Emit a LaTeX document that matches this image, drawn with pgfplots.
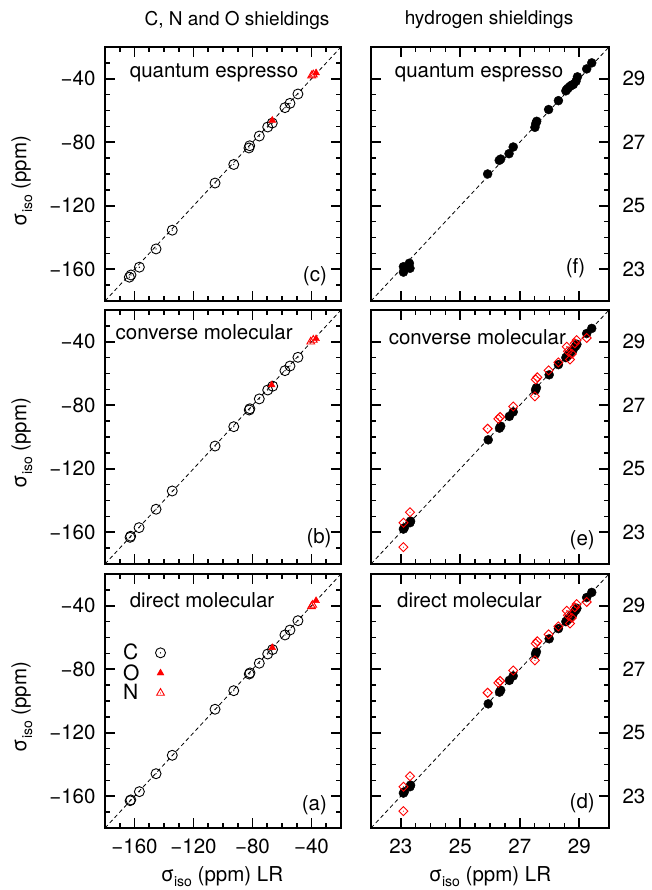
\documentclass[border=0pt]{standalone}
\usepackage{fontspec}
\setmainfont{TeX Gyre Heros}
\usepackage{pgfplots}
\pgfplotsset{compat=1.18}
\usepackage{pgfplotstable}

% open marks with a small centre dot
\pgfdeclareplotmark{odot}{%
  \pgfpathcircle{\pgfpointorigin}{\pgfplotmarksize}%
  \pgfusepathqstroke
  \pgfpathcircle{\pgfpointorigin}{0.7pt}%
  \pgfusepathqfill}
\pgfdeclareplotmark{triangledot}{%
  \pgfpathmoveto{\pgfqpointpolar{90}{\pgfplotmarksize}}%
  \pgfpathlineto{\pgfqpointpolar{210}{\pgfplotmarksize}}%
  \pgfpathlineto{\pgfqpointpolar{330}{\pgfplotmarksize}}%
  \pgfpathclose
  \pgfusepathqstroke
  \pgfpathcircle{\pgfpointorigin}{0.6pt}%
  \pgfusepathqfill}
\pgfdeclareplotmark{diamonddot}{%
  \pgfpathmoveto{\pgfqpoint{0pt}{\pgfplotmarksize}}%
  \pgfpathlineto{\pgfqpoint{\pgfplotmarksize}{0pt}}%
  \pgfpathlineto{\pgfqpoint{0pt}{-\pgfplotmarksize}}%
  \pgfpathlineto{\pgfqpoint{-\pgfplotmarksize}{0pt}}%
  \pgfpathclose
  \pgfusepathqstroke
  \pgfpathcircle{\pgfpointorigin}{0.6pt}%
  \pgfusepathqfill}

% sigma_iso with a subscript scaled to the 20pt label size
\newcommand{\siso}{σ\raisebox{-0.28em}{\fontsize{14}{16}\selectfont iso}}

% ---- C, N, O shieldings: LR (x) against method (y) ----
\pgfplotstableread{
x y
-163.5 -165.0
-162.4 -163.6
-156.7 -158.7
-145.4 -147.2
-134.4 -135.4
-105.4 -105.7
-92.7 -94.0
-82.4 -83.6
-81.9 -82.2
-75.4 -76.1
-69.7 -70.4
-66.6 -67.9
-58.0 -58.2
-54.6 -55.5
-49.2 -49.6
}\Cqe
\pgfplotstableread{
x y
-66.6 -66.2
-36.9 -36.3
}\Oqe
\pgfplotstableread{
x y
-39.9 -38.0
-38.8 -37.4
}\Nqe

\pgfplotstableread{
x y
-163.0 -163.2
-162.6 -162.5
-156.9 -157.1
-145.4 -145.5
-134.4 -134.0
-105.4 -105.7
-92.7 -93.5
-82.2 -83.0
-81.8 -82.2
-75.4 -76.0
-69.7 -70.4
-66.3 -68.0
-58.0 -58.2
-54.6 -55.3
-49.2 -49.8
}\Cconv
\pgfplotstableread{
x y
-67.0 -67.2
-36.9 -38.1
}\Oconv
\pgfplotstableread{
x y
-40.5 -40.0
-38.8 -38.9
}\Nconv

\pgfplotstableread{
x y
-163.0 -162.8
-162.5 -162.3
-156.7 -157.1
-145.4 -145.8
-134.4 -134.2
-105.4 -105.2
-92.7 -93.5
-82.2 -83.0
-81.7 -82.3
-75.4 -76.2
-69.7 -70.4
-66.4 -67.6
-58.0 -58.4
-54.6 -55.3
-49.2 -49.4
}\Cdir
\pgfplotstableread{
x y
-66.6 -66.4
-36.9 -36.8
}\Odir
\pgfplotstableread{
x y
-39.2 -39.5
-40.0 -40.4
}\Ndir

% ---- hydrogen shieldings ----
\pgfplotstableread{
x y
23.09 23.08
23.09 22.91
23.29 23.19
23.31 23.03
25.92 26.00
26.31 26.43
26.36 26.47
26.64 26.64
26.78 26.85
27.51 27.47
27.54 27.59
27.57 27.66
27.97 28.03
28.30 28.31
28.55 28.62
28.58 28.66
28.62 28.70
28.69 28.76
28.75 28.80
28.80 28.82
28.89 28.92
28.94 29.06
29.25 29.31
29.42 29.50
}\Hqe
\pgfplotstableread{
x y
23.09 23.10
23.12 23.14
23.31 23.30
23.33 23.35
25.94 25.91
26.32 26.28
26.36 26.34
26.65 26.65
26.78 26.79
27.53 27.48
27.56 27.55
27.99 27.96
28.30 28.28
28.55 28.50
28.60 28.55
28.65 28.60
28.72 28.68
28.80 28.76
28.88 28.86
28.92 28.92
29.25 29.26
29.42 29.42
}\Hmol
\pgfplotstableread{
x y
23.09 22.53
23.09 23.30
23.31 23.63
25.92 26.26
26.28 26.57
26.34 26.63
26.78 26.96
27.51 27.28
27.54 27.81
27.59 27.88
27.97 28.10
28.30 28.35
28.58 28.84
28.62 28.70
28.69 28.44
28.75 28.62
28.85 28.95
28.91 29.05
29.25 29.12
}\Hmolref

\tikzset{ptext/.style={font=\fontsize{20.5}{24}\selectfont}}

\pgfplotsset{
  panel/.style={
    scale only axis, height=254pt,
    axis line style={line width=1.8pt},
    tick align=inside,
    xtick pos=both, ytick pos=both,
    tick style={line width=1.6pt, black},
    major tick length=10pt, minor tick length=5pt,
    tick label style={font=\fontsize{20.5}{24}\selectfont},
    xticklabel style={yshift=-7pt},
  },
  cno/.style={
    panel, width=236pt,
    xmin=-180, xmax=-20, ymin=-180, ymax=-20,
    xtick={-160,-120,-80,-40}, ytick={-160,-120,-80,-40},
    minor xtick={-170,-150,-140,-130,-110,-100,-90,-70,-60,-50,-30},
    minor ytick={-170,-150,-140,-130,-110,-100,-90,-70,-60,-50,-30},
    yticklabels={−160,−120,−80,−40},
    yticklabel style={xshift=-6pt},
  },
  hyd/.style={
    panel, width=238pt,
    xmin=22, xmax=30, ymin=22, ymax=30,
    xtick={23,25,27,29}, ytick={23,25,27,29},
    minor tick num=3,
    yticklabels={23,25,27,29},
    yticklabel pos=right,
    yticklabel style={xshift=10pt},
  },
  diag/.style={black, line width=0.8pt, dash pattern=on 4pt off 3pt, forget plot},
  Cmark/.style={only marks, mark=odot, mark size=5pt, black, line width=0.9pt},
  Omark/.style={only marks, mark=triangle*, mark size=4pt, red, fill=red},
  Nmark/.style={only marks, mark=triangledot, mark size=4.5pt, red, line width=0.9pt},
  Hmark/.style={only marks, mark=*, mark size=4.5pt, black, fill=black},
  Rmark/.style={only marks, mark=diamonddot, mark size=4.5pt, red, line width=0.9pt},
}

\begin{document}
\begin{tikzpicture}[x=1pt, y=1pt]
\useasboundingbox (0,0) rectangle (652,-890);

% column titles and axis labels
\node[font=\fontsize{19}{22}\selectfont] at (237,-20) {C, N and O shieldings};
\node[font=\fontsize{19}{22}\selectfont] at (489,-20) {hydrogen shieldings};
\foreach \yc in {-181,-443,-707}
  \node[rotate=90, font=\fontsize{20.5}{24}\selectfont] at (22,\yc) {\siso{} (ppm)};
\node[anchor=base, font=\fontsize{20.5}{24}\selectfont] at (222,-881) {\siso{} (ppm) LR};
\node[anchor=base, font=\fontsize{20.5}{24}\selectfont] at (490,-881) {\siso{} (ppm) LR};

% (c) quantum espresso, C N O
\begin{axis}[cno, at={(105pt,-47pt)}, anchor=north west, xticklabels={}]
  \addplot[diag] coordinates {(-180,-180) (-20,-20)};
  \addplot[Cmark] table {\Cqe};
  \addplot[Nmark] table {\Nqe};
  \addplot[Omark] table {\Oqe};
  \node[ptext, anchor=west] at (rel axis cs:0.09,0.898) {quantum espresso};
  \node[ptext, anchor=east] at (rel axis cs:0.955,0.098) {(c)};
\end{axis}

% (b) converse molecular, C N O
\begin{axis}[cno, at={(105pt,-310pt)}, anchor=north west, xticklabels={}]
  \addplot[diag] coordinates {(-180,-180) (-20,-20)};
  \addplot[Cmark] table {\Cconv};
  \addplot[Nmark] table {\Nconv};
  \addplot[Omark] table {\Oconv};
  \node[ptext, anchor=west] at (rel axis cs:0.03,0.912) {converse molecular};
  \node[ptext, anchor=east] at (rel axis cs:0.975,0.102) {(b)};
\end{axis}

% (a) direct molecular, C N O
\begin{axis}[cno, at={(105pt,-574pt)}, anchor=north west,
  xticklabels={−160,−120,−80,−40},
  legend plot pos=right,
  legend style={at={(rel axis cs:0.055,0.74)}, anchor=north west, draw=none, fill=none,
    font=\fontsize{21}{24}\selectfont, row sep=-1pt, column sep=14pt},
  legend cell align=left]
  \addplot[diag] coordinates {(-180,-180) (-20,-20)};
  \addplot[Cmark] table {\Cdir};
  \addlegendentry{C}
  \addplot[Omark] table {\Odir};
  \addlegendentry{O}
  \addplot[Nmark] table {\Ndir};
  \addlegendentry{N}
  \node[ptext, anchor=west] at (rel axis cs:0.09,0.895) {direct molecular};
  \node[ptext, anchor=east] at (rel axis cs:0.955,0.091) {(a)};
\end{axis}

% (f) quantum espresso, H
\begin{axis}[hyd, at={(371pt,-47pt)}, anchor=north west, xticklabels={}]
  \addplot[diag] coordinates {(22,22) (30,30)};
  \addplot[Hmark] table {\Hqe};
  \node[ptext, anchor=west] at (rel axis cs:0.085,0.898) {quantum espresso};
  \node[ptext, anchor=east] at (rel axis cs:0.915,0.13) {(f)};
\end{axis}

% (e) converse molecular, H
\begin{axis}[hyd, at={(371pt,-310pt)}, anchor=north west, xticklabels={}]
  \addplot[diag] coordinates {(22,22) (30,30)};
  \addplot[Hmark] table {\Hmol};
  \addplot[Rmark] table {\Hmolref};
  \node[ptext, anchor=west] at (rel axis cs:0.06,0.894) {converse molecular};
  \node[ptext, anchor=east] at (rel axis cs:0.955,0.094) {(e)};
\end{axis}

% (d) direct molecular, H
\begin{axis}[hyd, at={(371pt,-574pt)}, anchor=north west, xticklabels={23,25,27,29}]
  \addplot[diag] coordinates {(22,22) (30,30)};
  \addplot[Hmark] table {\Hmol};
  \addplot[Rmark] table {\Hmolref};
  \node[ptext, anchor=west] at (rel axis cs:0.095,0.895) {direct molecular};
  \node[ptext, anchor=east] at (rel axis cs:0.955,0.098) {(d)};
\end{axis}
\end{tikzpicture}
\end{document}
